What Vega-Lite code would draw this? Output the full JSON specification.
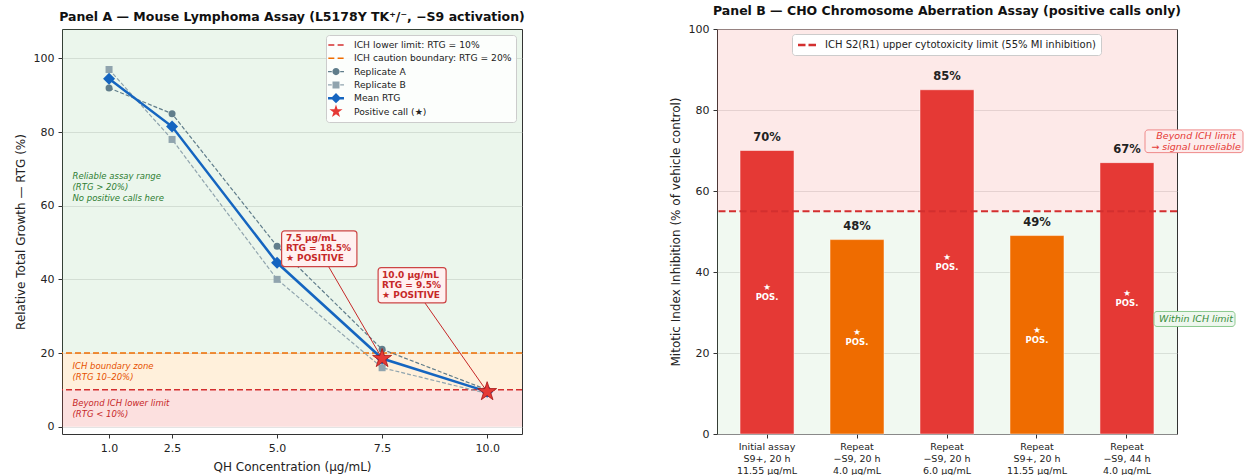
{
  "$schema": "https://vega.github.io/schema/vega-lite/v6.json",
  "background": "white",
  "padding": {"left": 13, "top": 4, "right": 0, "bottom": 0},
  "config": {
    "font": "DejaVu Sans",
    "view": {"stroke": "#333333", "strokeWidth": 1},
    "axis": {"domain": false, "tickColor": "#333333", "tickSize": 4, "labelPadding": 4, "labelFontSize": 11, "labelColor": "#222222", "titleFontSize": 12, "titleFontWeight": "normal", "titleColor": "#222222", "titlePadding": 6, "gridColor": "#cfcfcf", "gridOpacity": 0.7, "gridWidth": 0.8},
    "title": {"fontSize": 12.5, "fontWeight": "bold", "color": "#111111", "offset": 6}
  },
  "datasets": {
    "mla": [
      {"conc": 1.0, "rep": "A", "rtg": 92, "positive": false},
      {"conc": 2.5, "rep": "A", "rtg": 85, "positive": false},
      {"conc": 5.0, "rep": "A", "rtg": 49, "positive": false},
      {"conc": 7.5, "rep": "A", "rtg": 21, "positive": false},
      {"conc": 10.0, "rep": "A", "rtg": 10, "positive": false},
      {"conc": 1.0, "rep": "B", "rtg": 97, "positive": false},
      {"conc": 2.5, "rep": "B", "rtg": 78, "positive": false},
      {"conc": 5.0, "rep": "B", "rtg": 40, "positive": false},
      {"conc": 7.5, "rep": "B", "rtg": 16, "positive": false},
      {"conc": 10.0, "rep": "B", "rtg": 9, "positive": false},
      {"conc": 1.0, "rep": "Mean", "rtg": 94.5, "positive": false},
      {"conc": 2.5, "rep": "Mean", "rtg": 81.5, "positive": false},
      {"conc": 5.0, "rep": "Mean", "rtg": 44.5, "positive": false},
      {"conc": 7.5, "rep": "Mean", "rtg": 18.5, "positive": true},
      {"conc": 10.0, "rep": "Mean", "rtg": 9.5, "positive": true}
    ],
    "zonesA": [
      {"zone": "reliable", "lo": 20, "hi": 108},
      {"zone": "caution", "lo": 10, "hi": 20},
      {"zone": "beyond", "lo": 0, "hi": 10}
    ],
    "ichA": [
      {"limit": "lower", "rtg": 10},
      {"limit": "caution", "rtg": 20}
    ],
    "zoneTextA": [
      {"zone": "reliable", "x": 0.13, "y": 68.2, "label": "Reliable assay range\n(RTG > 20%)\nNo positive calls here"},
      {"zone": "caution", "x": 0.13, "y": 16.55, "label": "ICH boundary zone\n(RTG 10–20%)"},
      {"zone": "beyond", "x": 0.13, "y": 6.5, "label": "Beyond ICH lower limit\n(RTG < 10%)"}
    ],
    "calloutsA": [
      {"id": "c1", "tx": 5.21, "ty": 51.2, "ax": 6.23, "ay": 43.4, "conc": 7.5, "rtg": 18.5, "label": "7.5 µg/mL\nRTG = 18.5%\n★ POSITIVE"},
      {"id": "c2", "tx": 7.5, "ty": 41.2, "ax": 8.52, "ay": 33.6, "conc": 10.0, "rtg": 9.5, "label": "10.0 µg/mL\nRTG = 9.5%\n★ POSITIVE"}
    ],
    "cho": [
      {"assay": "Initial assay\nS9+, 20 h\n11.55 µg/mL", "mi": 70, "status": "beyond"},
      {"assay": "Repeat\n−S9, 20 h\n4.0 µg/mL", "mi": 48, "status": "within"},
      {"assay": "Repeat\n−S9, 20 h\n6.0 µg/mL", "mi": 85, "status": "beyond"},
      {"assay": "Repeat\nS9+, 20 h\n11.55 µg/mL", "mi": 49, "status": "within"},
      {"assay": "Repeat\n−S9, 44 h\n4.0 µg/mL", "mi": 67, "status": "beyond"}
    ],
    "zonesB": [
      {"zone": "band_beyond", "lo": 55, "hi": 100},
      {"zone": "band_within", "lo": 0, "hi": 55}
    ],
    "limitB": [{"mi": 55}],
    "notesB": [
      {"zone": "beyond", "y": 73.6, "label": "Beyond ICH limit\n→ signal unreliable"},
      {"zone": "within", "y": 28.4, "label": "Within ICH limit"}
    ]
  },
  "resolve": {
    "scale": {"color": "independent", "shape": "independent", "fill": "independent", "stroke": "independent"},
    "legend": {"color": "independent", "shape": "independent"}
  },
  "spacing": 142,
  "hconcat": [
    {
      "width": 460,
      "height": 405,
      "title": {"text": "Panel A — Mouse Lymphoma Assay (L5178Y TK⁺/⁻, −S9 activation)"},
      "layer": [
        {
          "data": {"name": "zonesA"},
          "mark": {"type": "rect"},
          "encoding": {
            "y": {"field": "lo", "type": "quantitative", "scale": {"domain": [-2, 108], "nice": false, "zero": false}, "axis": {"values": [0, 20, 40, 60, 80, 100], "grid": true, "title": "Relative Total Growth — RTG (%)"}},
            "y2": {"field": "hi"},
            "fill": {"field": "zone", "type": "nominal", "scale": {"domain": ["reliable", "caution", "beyond"], "range": ["rgba(76,175,80,0.11)", "rgba(255,152,0,0.14)", "rgba(239,83,80,0.18)"]}, "legend": null}
          }
        },
        {
          "data": {"name": "ichA"},
          "mark": {"type": "rule", "strokeWidth": 1.5, "strokeDash": [6, 3]},
          "encoding": {
            "y": {"field": "rtg", "type": "quantitative"},
            "stroke": {"field": "limit", "type": "nominal", "scale": {"domain": ["lower", "caution"], "range": ["#d32f2f", "#ef6c00"]}, "legend": null}
          }
        },
        {
          "data": {"name": "zoneTextA"},
          "transform": [{"filter": "datum.zone === 'reliable'"}],
          "mark": {"type": "text", "align": "left", "baseline": "middle", "fontSize": 8.5, "fontStyle": "italic", "lineBreak": "\n", "lineHeight": 11, "color": "#2e7d32"},
          "encoding": {"x": {"field": "x", "type": "quantitative"}, "y": {"field": "y", "type": "quantitative"}, "text": {"field": "label"}}
        },
        {
          "data": {"name": "zoneTextA"},
          "transform": [{"filter": "datum.zone === 'caution'"}],
          "mark": {"type": "text", "align": "left", "baseline": "middle", "fontSize": 8.5, "fontStyle": "italic", "lineBreak": "\n", "lineHeight": 11, "color": "#e65100"},
          "encoding": {"x": {"field": "x", "type": "quantitative"}, "y": {"field": "y", "type": "quantitative"}, "text": {"field": "label"}}
        },
        {
          "data": {"name": "zoneTextA"},
          "transform": [{"filter": "datum.zone === 'beyond'"}],
          "mark": {"type": "text", "align": "left", "baseline": "middle", "fontSize": 8.5, "fontStyle": "italic", "lineBreak": "\n", "lineHeight": 11, "color": "#c62828"},
          "encoding": {"x": {"field": "x", "type": "quantitative"}, "y": {"field": "y", "type": "quantitative"}, "text": {"field": "label"}}
        },
        {
          "data": {"name": "mla"},
          "transform": [{"filter": "datum.rep === 'A'"}],
          "mark": {"type": "line", "color": "#607d8b", "strokeWidth": 1.2, "strokeDash": [4, 2]},
          "encoding": {
            "x": {"field": "conc", "type": "quantitative", "scale": {"domain": [-0.12, 10.83], "nice": false, "zero": false}, "axis": {"values": [1, 2.5, 5, 7.5, 10], "format": ".1f", "title": "QH Concentration (µg/mL)", "titlePadding": 8, "grid": false}},
            "y": {"field": "rtg", "type": "quantitative"}
          }
        },
        {
          "data": {"name": "mla"},
          "transform": [{"filter": "datum.rep === 'A'"}],
          "mark": {"type": "point", "shape": "circle", "filled": true, "size": 49, "color": "#607d8b", "opacity": 1},
          "encoding": {"x": {"field": "conc", "type": "quantitative"}, "y": {"field": "rtg", "type": "quantitative"}}
        },
        {
          "data": {"name": "mla"},
          "transform": [{"filter": "datum.rep === 'B'"}],
          "mark": {"type": "line", "color": "#90a4ae", "strokeWidth": 1.2, "strokeDash": [4, 2]},
          "encoding": {"x": {"field": "conc", "type": "quantitative"}, "y": {"field": "rtg", "type": "quantitative"}}
        },
        {
          "data": {"name": "mla"},
          "transform": [{"filter": "datum.rep === 'B'"}],
          "mark": {"type": "point", "shape": "square", "filled": true, "size": 49, "color": "#90a4ae", "opacity": 1},
          "encoding": {"x": {"field": "conc", "type": "quantitative"}, "y": {"field": "rtg", "type": "quantitative"}}
        },
        {
          "data": {"name": "mla"},
          "transform": [{"filter": "datum.rep === 'Mean'"}],
          "mark": {"type": "line", "color": "#1565c0", "strokeWidth": 2.5},
          "encoding": {"x": {"field": "conc", "type": "quantitative"}, "y": {"field": "rtg", "type": "quantitative"}}
        },
        {
          "data": {"name": "mla"},
          "transform": [{"filter": "datum.rep === 'Mean'"}],
          "mark": {"type": "point", "shape": "diamond", "filled": true, "size": 144, "color": "#1565c0", "opacity": 1},
          "encoding": {"x": {"field": "conc", "type": "quantitative"}, "y": {"field": "rtg", "type": "quantitative"}}
        },
        {
          "data": {"name": "calloutsA"},
          "mark": {"type": "rule", "color": "#c62828", "strokeWidth": 1},
          "encoding": {
            "x": {"field": "ax", "type": "quantitative"},
            "y": {"field": "ay", "type": "quantitative"},
            "x2": {"field": "conc"},
            "y2": {"field": "rtg"}
          }
        },
        {
          "data": {"name": "mla"},
          "transform": [{"filter": "datum.rep === 'Mean' && datum.positive"}],
          "mark": {"type": "point", "shape": "M0,-1L0.2245,-0.309L0.9511,-0.309L0.3633,0.118L0.5878,0.809L0,0.382L-0.5878,0.809L-0.3633,0.118L-0.9511,-0.309L-0.2245,-0.309Z", "filled": true, "size": 400, "fill": "#e53935", "stroke": "#a31515", "strokeWidth": 0.8, "opacity": 1},
          "encoding": {"x": {"field": "conc", "type": "quantitative"}, "y": {"field": "rtg", "type": "quantitative"}}
        },
        {
          "data": {"name": "calloutsA"},
          "transform": [{"filter": "datum.id === 'c1'"}],
          "mark": {"type": "point", "shape": "M-0.13,-0.73H6.8A0.3,0.3 0 0 1 7.1,-0.43V2.54A0.3,0.3 0 0 1 6.8,2.84H-0.13A0.3,0.3 0 0 1 -0.43,2.54V-0.43A0.3,0.3 0 0 1 -0.13,-0.73Z", "size": 400, "filled": true, "fill": "#fff0f0", "stroke": "#cc4444", "strokeWidth": 1.2, "opacity": 1},
          "encoding": {"x": {"field": "tx", "type": "quantitative"}, "y": {"field": "ty", "type": "quantitative"}}
        },
        {
          "data": {"name": "calloutsA"},
          "transform": [{"filter": "datum.id === 'c2'"}],
          "mark": {"type": "point", "shape": "M-0.1,-0.73H6.1A0.3,0.3 0 0 1 6.4,-0.43V2.5A0.3,0.3 0 0 1 6.1,2.8H-0.1A0.3,0.3 0 0 1 -0.4,2.5V-0.43A0.3,0.3 0 0 1 -0.1,-0.73Z", "size": 400, "filled": true, "fill": "#fff0f0", "stroke": "#cc4444", "strokeWidth": 1.2, "opacity": 1},
          "encoding": {"x": {"field": "tx", "type": "quantitative"}, "y": {"field": "ty", "type": "quantitative"}}
        },
        {
          "data": {"name": "calloutsA"},
          "mark": {"type": "text", "align": "left", "baseline": "middle", "fontSize": 9, "fontWeight": "bold", "lineBreak": "\n", "lineHeight": 10, "color": "#c62828"},
          "encoding": {"x": {"field": "tx", "type": "quantitative"}, "y": {"field": "ty", "type": "quantitative"}, "text": {"field": "label"}}
        },
        {
          "data": {"name": "mla"},
          "transform": [{"filter": "false"}],
          "mark": {"type": "point", "filled": true, "opacity": 1},
          "encoding": {
            "x": {"field": "conc", "type": "quantitative"},
            "y": {"field": "rtg", "type": "quantitative"},
            "color": {
              "field": "series", "type": "nominal",
              "scale": {"domain": ["ICH lower limit: RTG = 10%", "ICH caution boundary: RTG = 20%", "Replicate A", "Replicate B", "Mean RTG", "Positive call (★)"], "range": ["#d32f2f", "#ef6c00", "#607d8b", "#90a4ae", "#1565c0", "#e53935"]},
              "legend": {"title": null, "orient": "top-right", "offset": 6, "padding": 4, "fillColor": "rgba(255,255,255,0.85)", "strokeColor": "#cccccc", "cornerRadius": 3, "labelFontSize": 9.2, "labelColor": "#222222", "labelLimit": 400, "symbolSize": 144, "symbolOffset": 0, "labelOffset": 12, "rowPadding": 0.3, "gridAlign": "all", "symbolStrokeWidth": 0, "symbolOpacity": 1}
            },
            "shape": {
              "field": "series", "type": "nominal",
              "scale": {"domain": ["ICH lower limit: RTG = 10%", "ICH caution boundary: RTG = 20%", "Replicate A", "Replicate B", "Mean RTG", "Positive call (★)"], "range": [
                "M-1.28,-0.13H-0.28V0.13H-1.28Z M0.27,-0.13H1.27V0.13H0.27Z",
                "M-1.28,-0.13H-0.28V0.13H-1.28Z M0.27,-0.13H1.27V0.13H0.27Z",
                "M-1.33,-0.09H-0.7V0.09H-1.33Z M0.7,-0.09H1.33V0.09H0.7Z M0.6,0A0.6,0.6 0 1 1 -0.6,0A0.6,0.6 0 1 1 0.6,0Z",
                "M-1.33,-0.09H-0.7V0.09H-1.33Z M0.7,-0.09H1.33V0.09H0.7Z M-0.58,-0.58H0.58V0.58H-0.58Z",
                "M-1.33,-0.2H1.33V0.2H-1.33Z M0,-0.85L0.85,0L0,0.85L-0.85,0Z",
                "M0,-1.15L0.258,-0.355L1.094,-0.355L0.418,0.136L0.676,0.93L0,0.439L-0.676,0.93L-0.418,0.136L-1.094,-0.355L-0.258,-0.355Z"
              ]},
              "legend": {"title": null, "orient": "top-right", "offset": 6, "padding": 4, "fillColor": "rgba(255,255,255,0.85)", "strokeColor": "#cccccc", "cornerRadius": 3, "labelFontSize": 9.2, "labelColor": "#222222", "labelLimit": 400, "symbolSize": 144, "symbolOffset": 0, "labelOffset": 12, "rowPadding": 0.3, "gridAlign": "all", "symbolStrokeWidth": 0, "symbolOpacity": 1}
            }
          }
        }
      ]
    },
    {
      "width": 460,
      "height": 405,
      "title": {"text": "Panel B — CHO Chromosome Aberration Assay (positive calls only)"},
      "layer": [
        {
          "data": {"name": "zonesB"},
          "mark": {"type": "rect"},
          "encoding": {
            "y": {"field": "lo", "type": "quantitative", "scale": {"domain": [0, 100], "nice": false}, "axis": {"values": [0, 20, 40, 60, 80, 100], "grid": true, "title": "Mitotic Index Inhibition (% of vehicle control)"}},
            "y2": {"field": "hi"},
            "fill": {"field": "zone", "type": "nominal", "scale": {"domain": ["band_beyond", "band_within", "beyond", "within"], "range": ["rgba(239,83,80,0.13)", "rgba(76,175,80,0.08)", "#e53935", "#ef6c00"]}, "legend": null}
          }
        },
        {
          "data": {"name": "cho"},
          "mark": {"type": "bar", "stroke": "#ffffff", "strokeWidth": 0.8, "strokeOpacity": 0.6},
          "encoding": {
            "x": {"field": "assay", "type": "nominal", "sort": null, "scale": {"paddingInner": 0.4, "paddingOuter": 0.256}, "axis": {"title": null, "labelAngle": 0, "labelExpr": "split(datum.label, '\\n')", "labelFontSize": 9.5, "labelLineHeight": 12, "labelPadding": 3, "labelLimit": 200}},
            "y": {"field": "mi", "type": "quantitative"},
            "fill": {"field": "status", "type": "nominal", "scale": {"domain": ["band_beyond", "band_within", "beyond", "within"], "range": ["rgba(239,83,80,0.13)", "rgba(76,175,80,0.08)", "#e53935", "#ef6c00"]}, "legend": null}
          }
        },
        {
          "data": {"name": "limitB"},
          "mark": {"type": "rule", "color": "#d32f2f", "strokeWidth": 2, "strokeDash": [7, 3.5]},
          "encoding": {"y": {"field": "mi", "type": "quantitative"}}
        },
        {
          "data": {"name": "cho"},
          "mark": {"type": "text", "baseline": "bottom", "dy": -8, "fontSize": 11.5, "fontWeight": "bold", "color": "#222222", "text": {"expr": "datum.mi + '%'"}},
          "encoding": {"x": {"field": "assay", "type": "nominal", "sort": null}, "y": {"field": "mi", "type": "quantitative"}}
        },
        {
          "data": {"name": "cho"},
          "mark": {"type": "text", "text": "★\nPOS.", "lineBreak": "\n", "lineHeight": 10, "fontSize": 8.5, "fontWeight": "bold", "color": "#ffffff", "baseline": "middle", "dy": -5},
          "encoding": {"x": {"field": "assay", "type": "nominal", "sort": null}, "y": {"field": "mi", "type": "quantitative", "stack": "zero", "bandPosition": 0.5}}
        },
        {
          "data": {"name": "notesB"},
          "transform": [{"filter": "datum.zone === 'beyond'"}],
          "mark": {"type": "point", "shape": "M-2.9,-0.6H6.3A0.3,0.3 0 0 1 6.6,-0.3V1.37A0.3,0.3 0 0 1 6.3,1.67H-2.9A0.3,0.3 0 0 1 -3.2,1.37V-0.3A0.3,0.3 0 0 1 -2.9,-0.6Z", "size": 400, "filled": true, "fill": "#fdecec", "stroke": "#ef8a8a", "strokeWidth": 1, "opacity": 1},
          "encoding": {"x": {"value": "width"}, "y": {"field": "y", "type": "quantitative"}}
        },
        {
          "data": {"name": "notesB"},
          "transform": [{"filter": "datum.zone === 'within'"}],
          "mark": {"type": "point", "shape": "M-2.0,-0.75H5.5A0.3,0.3 0 0 1 5.8,-0.45V0.45A0.3,0.3 0 0 1 5.5,0.75H-2.0A0.3,0.3 0 0 1 -2.3,0.45V-0.45A0.3,0.3 0 0 1 -2.0,-0.75Z", "size": 400, "filled": true, "fill": "#eef7ee", "stroke": "#8bc98e", "strokeWidth": 1, "opacity": 1},
          "encoding": {"x": {"value": "width"}, "y": {"field": "y", "type": "quantitative"}}
        },
        {
          "data": {"name": "notesB"},
          "transform": [{"filter": "datum.zone === 'beyond'"}],
          "mark": {"type": "text", "dx": 19, "align": "center", "baseline": "middle", "fontSize": 9.5, "fontStyle": "italic", "lineBreak": "\n", "lineHeight": 10.7, "color": "#e53935"},
          "encoding": {"x": {"value": "width"}, "y": {"field": "y", "type": "quantitative"}, "text": {"field": "label"}}
        },
        {
          "data": {"name": "notesB"},
          "transform": [{"filter": "datum.zone === 'within'"}],
          "mark": {"type": "text", "dx": 19, "align": "center", "baseline": "middle", "fontSize": 9.5, "fontStyle": "italic", "lineBreak": "\n", "lineHeight": 10.7, "color": "#388e3c"},
          "encoding": {"x": {"value": "width"}, "y": {"field": "y", "type": "quantitative"}, "text": {"field": "label"}}
        },
        {
          "data": {"name": "cho"},
          "transform": [{"filter": "false"}],
          "mark": {"type": "point", "filled": true, "opacity": 1},
          "encoding": {
            "x": {"field": "assay", "type": "nominal", "sort": null},
            "y": {"field": "mi", "type": "quantitative"},
            "color": {
              "field": "lim", "type": "nominal",
              "scale": {"domain": ["ICH S2(R1) upper cytotoxicity limit (55% MI inhibition)"], "range": ["#d32f2f"]},
              "legend": {"title": null, "orient": "none", "legendX": 75, "legendY": 5, "padding": 5, "fillColor": "#ffffff", "strokeColor": "#cccccc", "cornerRadius": 3, "labelFontSize": 10, "labelColor": "#222222", "labelLimit": 500, "symbolSize": 144, "symbolOffset": 4, "labelOffset": 12, "symbolStrokeWidth": 0, "symbolOpacity": 1}
            },
            "shape": {
              "field": "lim", "type": "nominal",
              "scale": {"domain": ["ICH S2(R1) upper cytotoxicity limit (55% MI inhibition)"], "range": ["M-1.5,-0.22H-0.25V0.22H-1.5Z M0.25,-0.22H1.5V0.22H0.25Z"]},
              "legend": {"title": null, "orient": "none", "legendX": 75, "legendY": 5, "padding": 5, "fillColor": "#ffffff", "strokeColor": "#cccccc", "cornerRadius": 3, "labelFontSize": 10, "labelColor": "#222222", "labelLimit": 500, "symbolSize": 144, "symbolOffset": 4, "labelOffset": 12, "symbolStrokeWidth": 0, "symbolOpacity": 1}
            }
          }
        }
      ]
    }
  ]
}
